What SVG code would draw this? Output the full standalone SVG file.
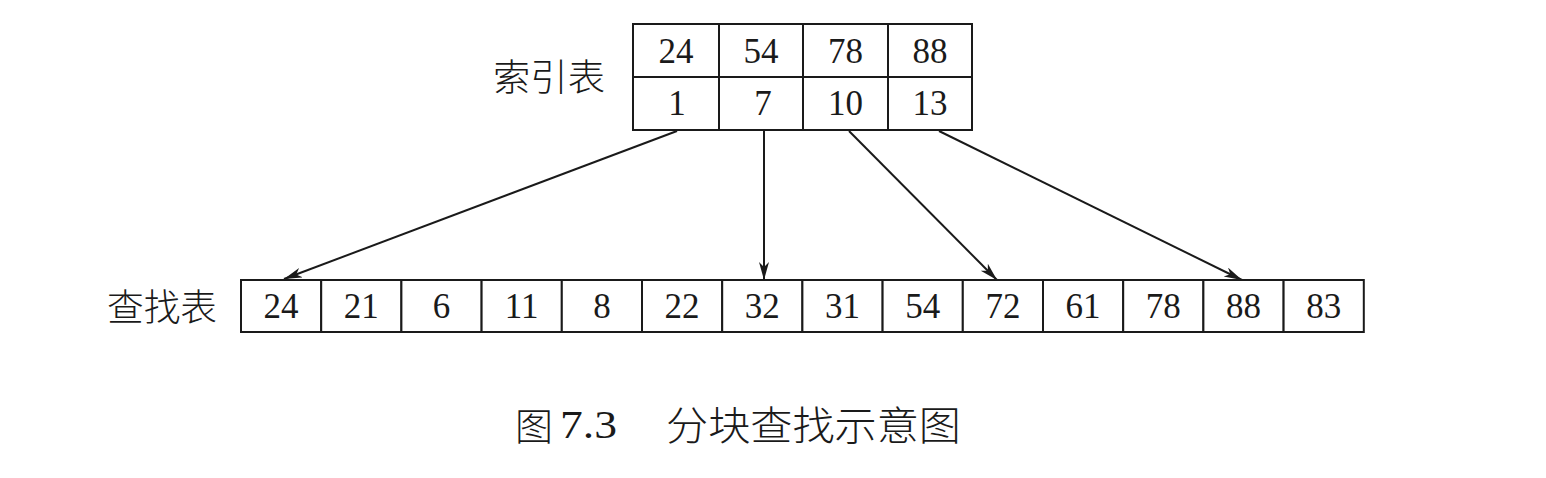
<svg xmlns="http://www.w3.org/2000/svg" width="1546" height="478" viewBox="0 0 1546 478">
  <style>
    .cell { fill: #ffffff; stroke: #1a1a1a; stroke-width: 2; }
    .num { font-family: "Liberation Serif", "Times New Roman", serif; font-size: 35px; fill: #1a1a1a; text-anchor: middle; }
    .cap { font-family: "Liberation Serif", "Times New Roman", serif; font-size: 40px; fill: #1a1a1a; }
    .cjk { font-family: "Noto Sans CJK SC", "Noto Sans", sans-serif; fill: #1a1a1a; font-weight: 300; }
    .conn { stroke: #1a1a1a; stroke-width: 2; fill: none; marker-end: url(#arrow); }
  </style>
  <defs>
    <marker id="arrow" markerUnits="userSpaceOnUse" markerWidth="22" markerHeight="12" refX="18" refY="5" orient="auto">
      <path d="M0,0 L18,5 L0,10 L5,5 Z" fill="#1a1a1a"/>
    </marker>
  </defs>
  <rect width="1546" height="478" fill="#ffffff"/>

  <g id="index-label">
    <text class="cjk" x="493" y="91" font-size="37" textLength="112" lengthAdjust="spacingAndGlyphs">索引表</text>
  </g>

  <g id="index-table">
    <rect class="cell" x="633" y="24" width="86" height="53"/>
    <rect class="cell" x="719" y="24" width="84" height="53"/>
    <rect class="cell" x="803" y="24" width="85" height="53"/>
    <rect class="cell" x="888" y="24" width="84" height="53"/>
    <rect class="cell" x="633" y="77" width="86" height="53"/>
    <rect class="cell" x="719" y="77" width="84" height="53"/>
    <rect class="cell" x="803" y="77" width="85" height="53"/>
    <rect class="cell" x="888" y="77" width="84" height="53"/>
    <text class="num" x="676" y="63">24</text>
    <text class="num" x="761" y="63">54</text>
    <text class="num" x="845.5" y="63">78</text>
    <text class="num" x="930" y="63">88</text>
    <text class="num" x="677" y="115">1</text>
    <text class="num" x="763" y="115">7</text>
    <text class="num" x="845.5" y="115">10</text>
    <text class="num" x="930" y="115">13</text>
  </g>

  <g id="connectors">
    <line class="conn" x1="677" y1="131" x2="284" y2="279"/>
    <line class="conn" x1="764" y1="131" x2="764" y2="280"/>
    <line class="conn" x1="849" y1="131" x2="997" y2="280"/>
    <line class="conn" x1="939" y1="131" x2="1242" y2="280"/>
  </g>

  <g id="lookup-label">
    <text class="cjk" x="107" y="321" font-size="37" textLength="110" lengthAdjust="spacingAndGlyphs">查找表</text>
  </g>

  <g id="lookup-table">
    <rect class="cell" x="241" y="280" width="80.2" height="52"/>
    <rect class="cell" x="321.2" y="280" width="80.2" height="52"/>
    <rect class="cell" x="401.4" y="280" width="80.2" height="52"/>
    <rect class="cell" x="481.6" y="280" width="80.2" height="52"/>
    <rect class="cell" x="561.8" y="280" width="80.2" height="52"/>
    <rect class="cell" x="642" y="280" width="80.2" height="52"/>
    <rect class="cell" x="722.2" y="280" width="80.2" height="52"/>
    <rect class="cell" x="802.4" y="280" width="80.2" height="52"/>
    <rect class="cell" x="882.6" y="280" width="80.2" height="52"/>
    <rect class="cell" x="962.8" y="280" width="80.2" height="52"/>
    <rect class="cell" x="1043" y="280" width="80.2" height="52"/>
    <rect class="cell" x="1123.2" y="280" width="80.2" height="52"/>
    <rect class="cell" x="1203.4" y="280" width="80.2" height="52"/>
    <rect class="cell" x="1283.6" y="280" width="80.2" height="52"/>
    <text class="num" x="281.1" y="318">24</text>
    <text class="num" x="361.3" y="318">21</text>
    <text class="num" x="441.5" y="318">6</text>
    <text class="num" x="521.7" y="318">11</text>
    <text class="num" x="601.9" y="318">8</text>
    <text class="num" x="682.1" y="318">22</text>
    <text class="num" x="762.3" y="318">32</text>
    <text class="num" x="842.5" y="318">31</text>
    <text class="num" x="922.7" y="318">54</text>
    <text class="num" x="1002.9" y="318">72</text>
    <text class="num" x="1083.1" y="318">61</text>
    <text class="num" x="1163.3" y="318">78</text>
    <text class="num" x="1243.5" y="318">88</text>
    <text class="num" x="1323.7" y="318">83</text>
  </g>

  <g id="caption">
    <text class="cjk" x="515" y="440" font-size="38">图</text>
    <text class="cap" x="560" y="438" textLength="57" lengthAdjust="spacingAndGlyphs">7.3</text>
    <text class="cjk" x="666" y="440" font-size="40" textLength="295" lengthAdjust="spacingAndGlyphs">分块查找示意图</text>
  </g>
</svg>
